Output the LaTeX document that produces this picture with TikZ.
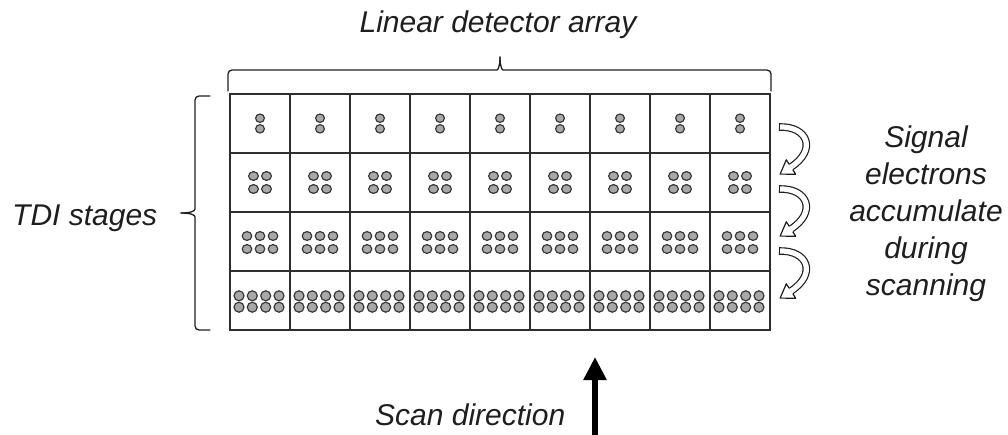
\documentclass[tikz,border=0pt]{standalone}
\usepackage{fontspec}
\setmainfont{Liberation Sans}
\usetikzlibrary{calc,arrows.meta}
\definecolor{ink}{HTML}{1E1E1E}
\definecolor{gridc}{HTML}{2E2E2E}
\definecolor{dotfill}{HTML}{A8A8A8}
\definecolor{dotline}{HTML}{383838}
\begin{document}
\begin{tikzpicture}[x=1pt,y=-1pt,
  lbl/.style={inner sep=0pt, text=ink, font=\fontsize{30}{36}\selectfont\itshape},
  cellbox/.style={draw=gridc, line width=1.2pt, minimum width=60pt, minimum height=59pt, inner sep=0pt},
  dot/.style={draw=dotline, fill=dotfill, line width=1.2pt},
  bracestyle/.style={draw=ink, line width=1.3pt, line cap=round},
  bandout/.style={draw=ink, line width=7.6pt},
  bandin/.style={draw=white, line width=5.2pt},
  headstyle/.style={fill=white, draw=ink, line width=1.2pt, line join=round}]
\useasboundingbox (0,0) rectangle (1008,434);

% detector cells: 9 columns x 4 TDI stages
\foreach \r in {1,...,4}{
  \foreach \c in {1,...,9}{
    \node[cellbox] (cell-\r-\c) at ({200+60*\c},{64.5+59*\r}) {};
  }
}
\draw[draw=gridc, line width=1.6pt] (cell-1-1.north west) rectangle (cell-4-9.south east);

% accumulated signal electrons in each cell
\foreach \c in {1,...,9}{
  \foreach \dy in {-5.3,5.3}
    \draw[dot] ($(cell-1-\c)+(0,\dy)$) ellipse [x radius=4.4pt, y radius=4.2pt];
  \foreach \dx in {-6.5,6.5}
    \foreach \dy in {-6.5,6.5}
      \draw[dot] ($(cell-2-\c)+(\dx,\dy)$) ellipse [x radius=4.9pt, y radius=4.4pt];
  \foreach \dx in {-13,0,13}
    \foreach \dy in {-6.5,6.5}
      \draw[dot] ($(cell-3-\c)+(\dx,\dy+1)$) ellipse [x radius=4.8pt, y radius=4.4pt];
  \foreach \dx in {-20,-6.7,6.7,20}
    \foreach \dy in {-5.7,5.7}
      \draw[dot] ($(cell-4-\c)+(\dx-1,\dy+1)$) ellipse [x radius=5pt, y radius=5pt];
}

% brace over the array
\draw[bracestyle, rounded corners=4pt] (228,91) -- (228,70) -- (493,70) .. controls (498,70) and (500,66) .. (500,57);
\draw[bracestyle, rounded corners=4pt] (771,91) -- (771,70) -- (507,70) .. controls (502,70) and (500,66) .. (500,57);

% brace beside the stages
\draw[bracestyle, rounded corners=4pt] (210,96) -- (195,96) -- (195,205) .. controls (195,211) and (191,213) .. (181,213);
\draw[bracestyle, rounded corners=4pt] (210,330) -- (195,330) -- (195,221) .. controls (195,215) and (191,213) .. (181,213);

% hollow curved arrows: charge handed down from stage to stage
\foreach \k/\dy in {1/0,2/62,3/124}{
  \coordinate (tail\k) at (779,{127+\dy});
  \coordinate (ca\k) at (808,{126+\dy});
  \coordinate (cb\k) at (817,{150+\dy});
  \coordinate (head\k) at (791,{167+\dy});
  \draw[bandout] (tail\k) .. controls (ca\k) and (cb\k) .. (head\k);
  \draw[bandin] (tail\k) .. controls (ca\k) and (cb\k) .. (head\k);
  \draw[draw=ink, line width=1.2pt] ($(tail\k)+(0.6,-3.8)$) -- ($(tail\k)+(0.6,3.8)$);
  \filldraw[headstyle] ($(head\k)!3.2pt!90:(cb\k)$) -- ($(head\k)!8.6pt!90:(cb\k)$)
     -- ($(head\k)!-13pt!(cb\k)$) -- ($(head\k)!8.6pt!-90:(cb\k)$) -- ($(head\k)!3.2pt!-90:(cb\k)$);
}

% scan direction arrow
\coordinate (scanfoot) at (595,436);
\coordinate (scantip) at (595,357);
\draw[draw=black, line width=5.5pt, -{Triangle[length=23pt,width=22pt]}] (scanfoot) -- (scantip);

% labels
\node[lbl, anchor=base] (title) at (498,32) {Linear detector array};
\node[lbl, anchor=base west] (tdi) at (12,225) {TDI stages};
\node[lbl, anchor=base] (sig1) at (926,147) {Signal};
\node[lbl, anchor=base] (sig2) at (926,184) {electrons};
\node[lbl, anchor=base] (sig3) at (926,221) {accumulate};
\node[lbl, anchor=base] (sig4) at (926,258) {during};
\node[lbl, anchor=base] (sig5) at (926,295) {scanning};
\node[lbl, anchor=base west] (scan) at (375,425) {Scan direction};
\end{tikzpicture}
\end{document}
